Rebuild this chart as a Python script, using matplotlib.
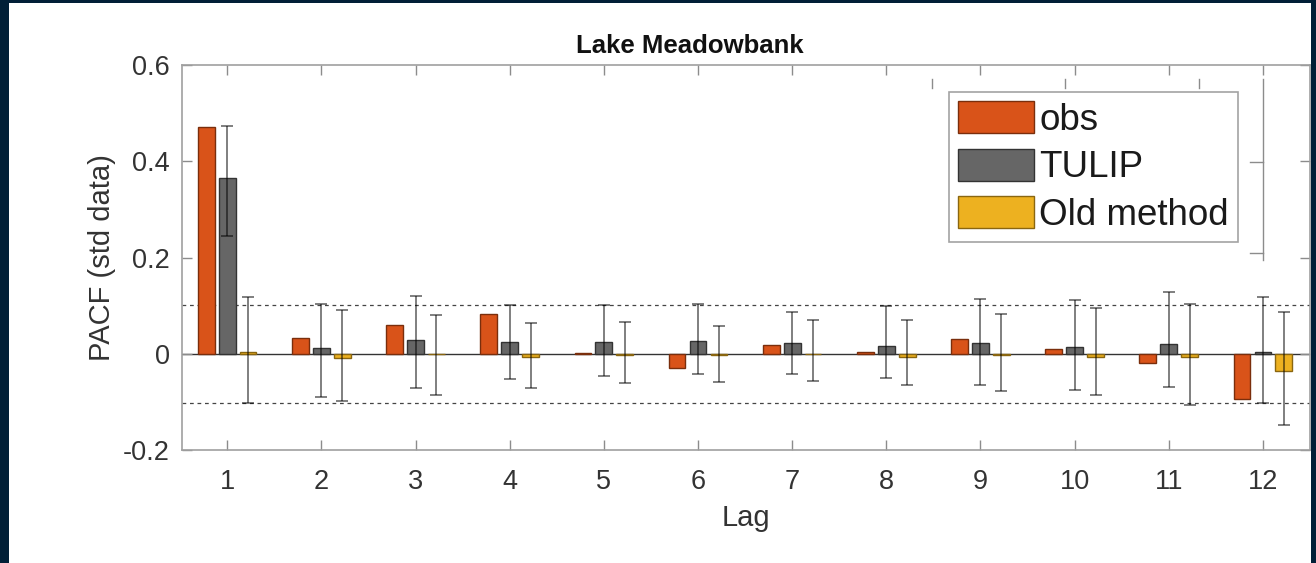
import matplotlib
matplotlib.use("Agg")
import matplotlib.pyplot as plt
from matplotlib.patches import Rectangle, Patch
from matplotlib.lines import Line2D
import numpy as np

# data
lags = np.arange(1, 13)
obs = [0.471, 0.032, 0.060, 0.083, 0.002, -0.030, 0.018, 0.003, 0.031, 0.010, -0.019, -0.093]
tulip = [0.365, 0.011, 0.028, 0.025, 0.025, 0.027, 0.022, 0.016, 0.022, 0.013, 0.020, 0.003]
tulip_lo = [0.245, -0.090, -0.071, -0.052, -0.046, -0.043, -0.042, -0.051, -0.065, -0.075, -0.070, -0.102]
tulip_hi = [0.473, 0.104, 0.120, 0.101, 0.101, 0.104, 0.087, 0.100, 0.113, 0.112, 0.129, 0.118]
old = [0.003, -0.008, -0.001, -0.007, -0.003, -0.003, -0.001, -0.007, -0.003, -0.007, -0.007, -0.036]
old_lo = [-0.103, -0.099, -0.085, -0.071, -0.060, -0.058, -0.056, -0.064, -0.078, -0.085, -0.106, -0.149]
old_hi = [0.117, 0.091, 0.081, 0.063, 0.065, 0.057, 0.070, 0.071, 0.083, 0.096, 0.104, 0.087]
conf_bound = 0.102
series_names = ["obs", "TULIP", "Old method"]

plt.rcParams["font.family"] = ["Liberation Sans", "DejaVu Sans"]
plt.rcParams["axes.unicode_minus"] = False

W, H = 1316, 563
fig = plt.figure(figsize=(W / 100, H / 100), dpi=100, facecolor="#011f37")


def px(x, y):
    """pixel position (from top-left) -> figure fraction"""
    return x / W, 1 - y / H


# white slide panel
fig.add_artist(Rectangle(px(9, 563), (1311 - 9) / W, (563 - 3) / H,
                         transform=fig.transFigure, facecolor="white",
                         edgecolor="none", zorder=0))

l, b = px(182, 450)
r, t = px(1310, 65)
ax = fig.add_axes([l, b, r - l, t - b])

colors = ["#d95319", "#666666", "#edb120"]
edges = ["#7a2e0c", "#333333", "#8a6610"]
offset = 0.222
width = 0.178

ax.bar(lags - offset, obs, width, color=colors[0], edgecolor=edges[0], linewidth=1, zorder=2)
ax.bar(lags, tulip, width, color=colors[1], edgecolor=edges[1], linewidth=1, zorder=2)
ax.bar(lags + offset, old, width, color=colors[2], edgecolor=edges[2], linewidth=1, zorder=2)

tul = np.array(tulip)
olda = np.array(old)
ax.errorbar(lags, tul, yerr=[tul - np.array(tulip_lo), np.array(tulip_hi) - tul],
            fmt="none", ecolor="black", alpha=0.5, elinewidth=1.4, capsize=4.5,
            capthick=1.4, zorder=3)
ax.errorbar(lags + offset, olda, yerr=[olda - np.array(old_lo), np.array(old_hi) - olda],
            fmt="none", ecolor="black", alpha=0.5, elinewidth=1.4, capsize=4.5,
            capthick=1.4, zorder=3)

ax.axhline(0, color="#333333", linewidth=1, zorder=1)
ax.axhline(conf_bound, color="#444444", linewidth=0.9, linestyle=(0, (3, 3)), zorder=1)
ax.axhline(-conf_bound, color="#444444", linewidth=0.9, linestyle=(0, (3, 3)), zorder=1)

ax.set_xlim(0.52, 12.5)
ax.set_ylim(-0.2, 0.6)
ax.set_xticks(lags)
ax.set_yticks([-0.2, 0, 0.2, 0.4, 0.6])
ax.set_yticklabels(["-0.2", "0", "0.2", "0.4", "0.6"])
ax.tick_params(direction="in", length=7.5, width=1, color="#8c8c8c",
               labelcolor="#333333", labelsize=19.5, top=True, right=True)
ax.tick_params(axis="x", pad=14)
ax.tick_params(axis="y", pad=9)
for s in ax.spines.values():
    s.set_color("#a0a0a0")
    s.set_linewidth(1.2)

ax.set_xlabel("Lag", fontsize=21, color="#333333", labelpad=6)
ax.set_ylabel("PACF (std data)", fontsize=21, color="#333333", labelpad=5)

fig.text(*px(690, 46), "Lake Meadowbank", ha="center", va="center", fontsize=18.5,
         fontweight="bold", family=["Liberation Sans Narrow", "Liberation Sans"],
         color="#111111")

handles = [Patch(facecolor=c, edgecolor=e, linewidth=1) for c, e in zip(colors, edges)]
leg = fig.legend(handles, series_names, loc="upper left", bbox_to_anchor=px(949, 92),
                 bbox_transform=fig.transFigure, fontsize=26.5, frameon=True, fancybox=False,
                 borderaxespad=0, borderpad=0.25, handlelength=2.05, handleheight=0.95,
                 handletextpad=0.15, labelspacing=0.3)
leg.get_frame().set_edgecolor("#8c8c8c")
leg.get_frame().set_linewidth(1.2)
for txt in leg.get_texts():
    txt.set_color("#1a1a1a")

# leftover axis pieces from the pasted legend image
gray = "#8c8c8c"
for x in (932, 1065, 1199):
    fig.add_artist(Line2D([px(x, 79)[0], px(x, 88)[0]], [px(x, 79)[1], px(x, 88)[1]],
                          transform=fig.transFigure, color=gray, lw=1))
fig.add_artist(Line2D([px(1263, 79)[0]] * 2, [px(1263, 79)[1], px(1263, 260)[1]],
                      transform=fig.transFigure, color=gray, lw=1))
for y in (162, 253):
    fig.add_artist(Line2D([px(1250, y)[0], px(1263, y)[0]], [px(1250, y)[1]] * 2,
                          transform=fig.transFigure, color=gray, lw=1))

fig.savefig("out.png", dpi=100, facecolor=fig.get_facecolor())
